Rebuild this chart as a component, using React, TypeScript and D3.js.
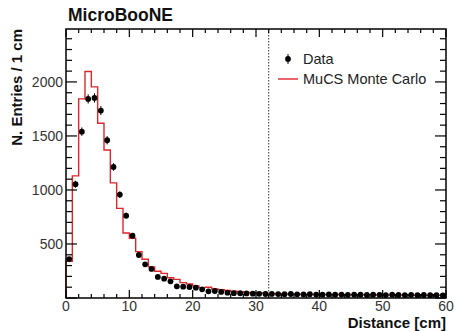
import React from 'react';
import * as d3 from 'd3';

// data histogram, 1 cm bins from 0 to 60 cm
const dataCounts = [
  360, 1053, 1540, 1843, 1852, 1735, 1460, 1213, 957, 762,
  577, 398, 312, 269, 195, 179, 154, 108, 105, 102,
  96, 80, 62, 65, 56, 49, 45, 44, 42, 40,
  39, 37, 38, 36, 35, 37, 34, 33, 35, 32,
  31, 33, 30, 32, 29, 31, 30, 28, 30, 29,
  27, 31, 28, 27, 29, 26, 28, 26, 27, 25,
];

// MuCS Monte Carlo, same binning
const mcCounts = [
  340, 1130, 1843, 2096, 1954, 1618, 1370, 1066, 830, 602,
  553, 429, 358, 288, 247, 228, 188, 172, 142, 130,
  112, 96, 100, 84, 76, 70, 63, 58, 52, 49,
  46, 42, 40, 39, 38, 37, 36, 35, 35, 34,
  33, 33, 32, 31, 31, 30, 30, 29, 29, 28,
  28, 27, 27, 27, 26, 26, 25, 25, 25, 24,
];

const xMajor = [0, 10, 20, 30, 40, 50, 60];
const yMajor = [500, 1000, 1500, 2000];
const cutDistance = 32;

const W = 455;
const H = 331;
const frame = { left: 66, right: 446, top: 29, bottom: 298 };
const font = 'Liberation Sans, Arial, Helvetica, sans-serif';

const App = () => {
  const x = d3.scaleLinear().domain([0, 60]).range([frame.left, frame.right]);
  const y = d3.scaleLinear().domain([0, 2490]).range([frame.bottom, frame.top]);

  // step outline for the MC histogram
  const stepPts: [number, number][] = [[0, 0]];
  mcCounts.forEach((v, i) => stepPts.push([i, v]));
  stepPts.push([60, mcCounts[mcCounts.length - 1]]);
  const stepLine = d3.line<[number, number]>()
    .x(d => x(d[0]))
    .y(d => y(d[1]))
    .curve(d3.curveStepAfter);

  const xMinor = d3.range(0, 61, 2);
  const yMinor = d3.range(0, 2401, 100);

  return (
    <svg width={W} height={H} style={{ position: 'absolute', left: 0, top: 0, background: '#fff' }}>
      {/* title */}
      <text x={68} y={21} fontFamily={font} fontWeight="bold" fontSize={17.5} fill="#111">MicroBooNE</text>

      {/* cut line */}
      <line x1={x(cutDistance)} x2={x(cutDistance)} y1={frame.top} y2={frame.bottom}
        stroke="#555" strokeWidth={1.2} strokeDasharray="1.5,1.5" />

      {/* MC histogram */}
      <path d={stepLine(stepPts) || ''} fill="none" stroke="#e0262b" strokeWidth={1.4} />

      {/* data points with error bars */}
      {dataCounts.map((v, i) => {
        const cx = x(i + 0.5);
        const e = Math.sqrt(v);
        return (
          <g key={i}>
            <line x1={cx} x2={cx} y1={y(v - e)} y2={y(v + e)} stroke="#000" strokeWidth={1} />
            <circle cx={cx} cy={y(v)} r={2.9} fill="#000" />
          </g>
        );
      })}

      {/* x ticks, bottom and top */}
      {xMinor.map(t => {
        const len = t % 10 === 0 ? 8 : 4;
        return (
          <g key={'xt' + t}>
            <line x1={x(t)} x2={x(t)} y1={frame.bottom} y2={frame.bottom - len} stroke="#000" strokeWidth={1.2} />
            <line x1={x(t)} x2={x(t)} y1={frame.top} y2={frame.top + len} stroke="#000" strokeWidth={1.2} />
          </g>
        );
      })}
      {/* y ticks, left and right */}
      {yMinor.map(t => {
        const len = t % 500 === 0 ? 11 : 6;
        return (
          <g key={'yt' + t}>
            <line x1={frame.left} x2={frame.left + len} y1={y(t)} y2={y(t)} stroke="#000" strokeWidth={1.2} />
            <line x1={frame.right} x2={frame.right - len} y1={y(t)} y2={y(t)} stroke="#000" strokeWidth={1.2} />
          </g>
        );
      })}

      {/* frame */}
      <rect x={frame.left} y={frame.top} width={frame.right - frame.left} height={frame.bottom - frame.top}
        fill="none" stroke="#000" strokeWidth={1.5} />

      {/* tick labels */}
      {xMajor.map(t => (
        <text key={'xl' + t} x={x(t)} y={311} textAnchor="middle" fontFamily={font} fontSize={14} fill="#333">{t}</text>
      ))}
      {yMajor.map(t => (
        <text key={'yl' + t} x={63} y={y(t) + 5} textAnchor="end" fontFamily={font} fontSize={14} fill="#333">{t}</text>
      ))}

      {/* axis titles */}
      <text x={frame.right} y={328} textAnchor="end" fontFamily={font} fontWeight="bold" fontSize={15} fill="#111">Distance [cm]</text>
      <text transform={`translate(22,${frame.top}) rotate(-90)`} textAnchor="end" fontFamily={font}
        fontWeight="bold" fontSize={15} fill="#111">N. Entries / 1 cm</text>

      {/* legend */}
      <line x1={288} x2={288} y1={54} y2={64} stroke="#000" strokeWidth={1} />
      <circle cx={288} cy={59} r={2.9} fill="#000" />
      <text x={303} y={64} fontFamily={font} fontSize={14.5} fill="#222">Data</text>
      <line x1={278} x2={298} y1={79} y2={79} stroke="#e0262b" strokeWidth={1.4} />
      <text x={303} y={84} fontFamily={font} fontSize={14.5} fill="#222">MuCS Monte Carlo</text>
    </svg>
  );
};

export default App;
